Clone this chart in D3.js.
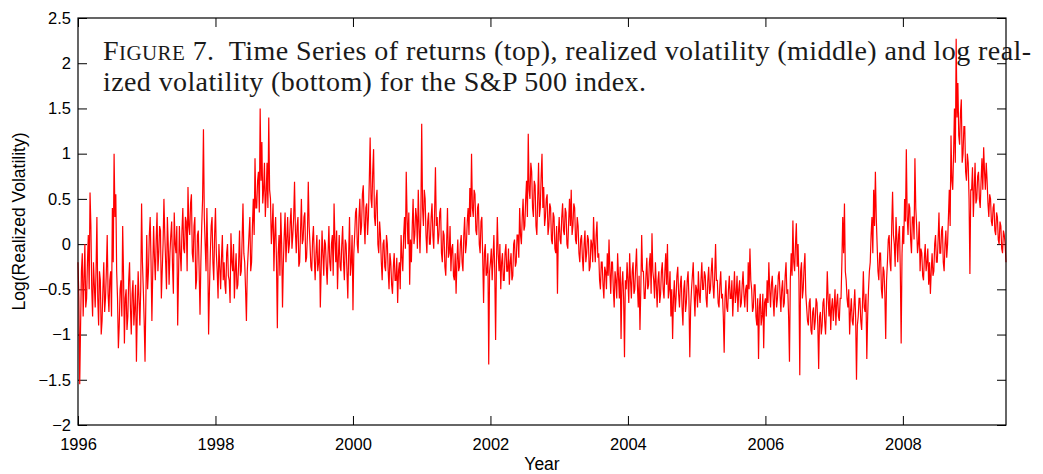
<!DOCTYPE html>
<html>
<head>
<meta charset="utf-8">
<script src="https://cdn.jsdelivr.net/npm/d3@7"></script>
<style>
  html, body { margin: 0; padding: 0; background: #fff; }
  svg { display: block; }
</style>
</head>
<body>
<div id="chart"></div>
<script>
// Log realized volatility of the S&P 500 (80 samples per year)
const v1996 = [-0.2, -0.6, -1.55, -0.9, -0.3, -0.1, -0.8, -0.4, 0.0, -0.7, -0.6, -0.2, 0.1, -0.5, 0.57, 0.2, -0.5, -0.8, -0.2, -0.45,
  -0.7, -0.3, 0.3, -0.6, -0.9, -0.3, -0.4, -1.0, -0.85, -0.5, -0.2, -0.75, -0.6, -0.3, 0.1, -0.55, -0.75, -0.4, -0.3, -0.8,
  0.4, -0.2, 1.0, 0.3, 0.55, -0.3, -0.6, -1.15, -0.9, -0.5, -0.4, -0.8, 0.2, -0.35, -1.1, -0.6, -0.5, -0.95, -0.8, -0.4,
  -0.2, -0.7, -1.0, -0.55, -0.4, -0.9, -0.7, -0.45, -1.3, -0.75, -0.3, -0.6, -0.9, -0.5, 0.45, -0.2, -0.5, -0.85, -1.3, -0.6];
const v1997 = [0.1, -0.5, -0.3, 0.1, 0.3, -0.2, -0.85, -0.3, 0.2, -0.15, -0.4, 0.05, 0.35, -0.3, -0.1, 0.2, 0.15, -0.6, -0.3, 0.0,
  0.5, 0.1, -0.2, -0.5, 0.3, 0.0, -0.45, -0.1, 0.1, 0.25, -0.25, -0.55, 0.35, 0.0, -0.1, 0.2, -0.9, -0.35, 0.2, -0.1,
  -0.3, 0.15, 0.4, -0.05, -0.1, 0.3, 0.25, -0.3, 0.63, 0.2, 0.1, 0.45, 0.55, -0.1, -0.2, 0.2, 0.3, -0.5, -0.4, 0.1,
  0.15, -0.3, -0.78, -0.2, 0.2, 0.5, 1.27, 0.3, 0.0, -0.3, 0.4, -0.1, -1.0, -0.5, -0.1, 0.2, 0.3, -0.2, -0.4, 0.1];
const v1998 = [0.4, -0.1, -0.3, -0.6, 0.0, -0.25, -0.5, -0.15, 0.1, -0.4, -0.2, -0.45, -0.55, -0.1, 0.0, -0.35, -0.4, -0.65, 0.12, -0.2,
  -0.3, 0.0, -0.6, -0.3, -0.1, -0.5, -0.45, -0.2, 0.15, -0.35, -0.3, 0.05, 0.45, -0.1, -0.2, -0.5, -0.85, -0.3, -0.1, 0.1,
  0.3, -0.3, -0.2, 0.2, 0.5, 0.1, 0.95, 0.4, 0.4, 0.7, 0.8, 0.35, 1.5, 0.7, 1.13, 0.45, 0.6, 0.9, 0.3, 0.55,
  0.9, 0.4, 1.4, 0.6, 0.5, 0.0, 0.2, 0.45, -0.3, 0.1, 0.3, -0.2, -0.93, -0.1, 0.1, -0.35, 0.35, 0.0, -0.7, -0.2];
const v1999 = [0.1, 0.35, -0.2, 0.05, 0.3, -0.1, 0.0, 0.25, 0.4, -0.05, 0.1, 0.3, 0.69, 0.15, -0.1, 0.2, 0.3, -0.25, -0.2, 0.15,
  0.5, 0.0, 0.05, 0.3, 0.35, -0.2, -0.15, 0.1, 0.69, 0.2, 0.0, -0.25, -0.3, 0.05, 0.2, -0.15, -0.4, -0.1, 0.1, -0.3,
  -0.2, 0.05, -0.7, -0.3, 0.15, -0.1, -0.35, 0.05, 0.0, -0.25, -0.45, -0.1, 0.2, -0.2, -0.3, 0.0, 0.1, -0.35, 0.45, 0.05,
  -0.2, 0.15, -0.5, -0.15, 0.1, -0.25, -0.3, 0.0, 0.2, -0.2, -0.4, 0.05, 0.0, -0.3, -0.6, -0.1, 0.3, -0.35, -0.2, 0.1];
const v2000 = [-0.73, -0.1, 0.1, 0.35, 0.4, 0.0, -0.1, 0.3, 0.5, 0.1, 0.2, 0.55, 0.65, 0.25, 0.0, 0.4, 0.45, 0.1, 0.3, 0.7,
  1.18, 0.5, 0.4, 0.8, 1.05, 0.3, 0.2, 0.5, 0.6, 0.0, -0.1, 0.25, 0.1, -0.2, -0.4, 0.0, 0.05, -0.25, -0.3, 0.1,
  0.0, -0.3, -0.5, -0.1, -0.2, -0.45, -0.55, -0.25, -0.1, -0.4, -0.4, -0.15, -0.65, -0.3, -0.2, -0.5, 0.1, -0.15, -0.3, 0.1,
  0.3, -0.05, 0.8, 0.3, 0.0, 0.35, -0.45, 0.05, -0.2, 0.2, 0.5, 0.0, 0.1, 0.4, 0.3, -0.05, 0.6, 0.2, -0.1, 0.3];
const v2001 = [1.33, 0.4, 0.2, 0.6, 0.5, 0.1, -0.1, 0.25, 0.35, 0.0, 0.0, 0.3, 0.45, 0.1, -0.05, 0.35, 0.85, 0.2, 0.3, 0.0,
  0.1, 0.35, 0.4, -0.1, -0.2, 0.15, 0.1, -0.25, -0.35, 0.0, 0.4, -0.15, -0.1, 0.2, -0.3, -0.05, 0.0, -0.35, -0.4, -0.1,
  -0.55, -0.2, 0.05, -0.3, -0.25, 0.0, 0.1, -0.2, -0.3, 0.1, 0.3, -0.1, 0.0, 0.25, 0.4, 0.1, 0.62, 0.3, 1.0, 0.4,
  0.3, 0.6, 0.55, 0.15, 0.1, 0.4, 0.45, 0.0, -0.1, 0.25, 0.3, -0.15, -0.65, -0.1, 0.0, -0.35, -0.3, -0.1, -1.33, -0.3];
const v2002 = [-0.2, -0.05, -0.4, -0.15, 0.1, -0.3, -1.06, -0.2, 0.3, -0.1, -0.3, 0.0, -0.5, -0.2, -0.1, -0.4, -0.4, -0.1, 0.0, -0.3,
  -0.3, -0.05, -0.45, -0.2, -0.1, -0.4, -0.35, 0.0, 0.05, -0.25, -0.2, 0.1, 0.1, -0.15, 0.4, 0.1, 0.0, 0.3, 0.5, 0.15,
  0.2, 0.5, 0.7, 0.3, 1.22, 0.6, 0.5, 0.9, 0.8, 0.4, 0.3, 0.7, 0.65, 0.2, 0.1, 0.5, 0.9, 0.3, 0.4, 0.75,
  1.0, 0.4, 0.63, 0.2, 0.3, 0.5, 0.55, 0.1, 0.2, 0.45, 0.4, 0.05, 0.0, 0.35, 0.3, -0.05, -0.1, 0.2, -0.55, 0.1];
const v2003 = [0.3, 0.05, 0.0, 0.3, 0.45, 0.15, 0.1, 0.4, 0.35, 0.0, -0.05, 0.25, 0.5, 0.2, 0.6, 0.1, 0.2, 0.45, 0.4, 0.05,
  0.0, 0.3, 0.2, -0.1, -0.2, 0.05, 0.1, -0.15, -0.3, 0.0, 0.15, -0.2, -0.1, 0.1, 0.05, -0.3, -0.25, 0.05, 0.0, -0.2,
  0.3, 0.0, -0.2, 0.1, 0.25, -0.15, -0.1, -0.4, -0.5, -0.2, -0.2, -0.45, -0.6, -0.25, -0.3, -0.5, -0.1, -0.35, 0.05, -0.3,
  -0.55, -0.2, -0.2, -0.5, -0.7, -0.3, -0.4, -0.6, -0.1, -0.35, -0.6, -0.25, -1.05, -0.45, -0.3, -0.6, -1.25, -0.4, -0.5, -0.2];
const v2004 = [-0.4, -0.65, -0.1, -0.4, -0.6, -0.3, -0.2, -0.55, -0.5, -0.25, -0.05, -0.45, -0.7, -0.35, -0.95, -0.5, 0.1, -0.3, -0.3, -0.6,
  -0.6, -0.35, -0.15, -0.5, -0.45, -0.2, -0.1, -0.55, 0.12, -0.3, -0.4, -0.6, -0.2, -0.45, -0.7, -0.4, -0.3, -0.65, -0.55, -0.3,
  -0.2, -0.5, -0.6, -0.3, -0.1, -0.45, 0.0, -0.6, -0.5, -0.3, -0.8, -0.5, -1.05, -0.6, -0.4, -0.75, -0.6, -0.35, -0.25, -0.55,
  -0.7, -0.45, -0.35, -0.7, -0.9, -0.5, -0.4, -0.75, -0.65, -0.4, -0.3, -0.6, -1.25, -0.7, -0.5, -0.35, -0.2, -0.55, -0.8, -0.45];
const v2005 = [-0.5, -0.7, -0.3, -0.55, -0.65, -0.4, -0.2, -0.5, -0.5, -0.3, -0.35, -0.6, -0.7, -0.4, -0.25, -0.55, -0.5, -0.3, -0.15, -0.45,
  -0.6, -0.35, 0.0, -0.4, -0.4, -0.65, -0.7, -0.45, -0.3, -0.6, -0.55, -0.8, -1.2, -0.6, -0.4, -0.7, -0.75, -0.5, -0.35, -0.6,
  -0.6, -0.4, -0.8, -0.55, -0.3, -0.65, -0.55, -0.35, -0.75, -0.5, -0.4, -0.7, -0.65, -0.45, -0.3, -0.55, -0.7, -0.5, -0.45, -0.75,
  -0.2, -0.5, -0.05, -0.4, -0.5, -0.75, -0.7, -0.45, -0.45, -0.8, -0.9, -0.6, -1.27, -0.7, -0.55, -0.9, -0.8, -0.55, -1.15, -0.65];
const v2006 = [-0.6, -0.8, -0.4, -0.65, -0.2, -0.5, -0.7, -0.45, -0.35, -0.6, -0.8, -0.5, -0.45, -0.7, -0.6, -0.35, -0.3, -0.55, -0.75, -0.5,
  -0.4, -0.7, -0.65, -0.35, -0.2, -0.55, -0.5, -0.8, -1.3, -0.4, -0.1, -0.35, 0.26, -0.2, -0.3, 0.0, 0.23, -0.25, 0.0, -0.4,
  -1.45, -0.3, -0.2, -0.6, -0.5, -0.25, -0.1, -0.55, -0.7, -0.85, -0.9, -0.65, -0.6, -0.95, -1.0, -0.75, -0.7, -0.95, -0.85, -0.6,
  -0.65, -0.9, -1.38, -0.8, -0.75, -1.0, -0.9, -0.65, -0.6, -0.85, -1.0, -0.7, -0.3, -0.6, -0.8, -0.55, -0.95, -0.7, -0.6, -0.85];
const v2007 = [-0.7, -0.5, -0.9, -0.65, -0.55, -0.8, -0.85, -0.6, -0.6, -0.2, 0.3, -0.1, 0.45, -0.3, -0.4, -0.6, -0.7, -0.5, -1.0, -0.75,
  -0.6, -0.85, -0.9, -0.7, -0.5, -0.8, -1.5, -0.9, -0.8, -0.6, -0.6, -0.85, -0.95, -0.65, -0.3, -0.7, -0.75, -0.55, -1.27, -0.8,
  -0.5, -0.3, -0.2, 0.1, 0.3, -0.1, 0.6, 0.2, 0.8, 0.3, 0.0, -0.3, -0.4, -0.1, -0.1, -0.5, -0.6, -0.25, -0.3, -0.55,
  -1.05, -0.4, -0.2, 0.05, 0.1, -0.2, -0.3, 0.2, 0.58, 0.1, 0.0, -0.25, 0.3, 0.05, -0.2, 0.1, 0.2, -0.3, -1.1, -0.1];
const v2008 = [0.2, 0.0, 0.5, 0.25, 1.05, 0.3, 0.1, 0.45, 0.4, 0.05, -0.1, 0.3, 0.3, 0.05, 0.95, 0.4, 0.2, -0.1, 0.0, 0.25,
  -0.3, -0.05, -0.1, -0.35, -0.4, -0.15, 0.0, -0.3, -0.2, -0.05, -0.45, -0.2, -0.55, -0.3, -0.1, -0.35, -0.3, 0.0, 0.1, -0.2,
  -0.2, 0.05, 0.35, -0.1, -0.1, 0.15, 0.2, -0.2, -0.3, 0.0, 0.15, -0.15, 0.0, 0.3, 0.6, 0.2, 1.2, 0.7, 0.6, 1.0,
  1.5, 0.9, 2.27, 1.4, 1.78, 1.2, 1.1, 1.45, 1.6, 0.9, 1.0, 1.3, 1.3, 0.8, 0.7, 1.0, 0.9, 0.5, -0.33, 0.6];
const v2009 = [0.6, 0.85, 0.3, 0.6, 0.9, 0.45, 0.5, 0.75, 0.8, 0.5, 0.4, 0.7, 0.95, 0.6, 1.07, 0.8, 0.6, 0.9, 0.7, 0.45,
  0.3, 0.55, 0.5, 0.25, 0.2, 0.4, 0.45, 0.15, 0.1, 0.35, 0.3, 0.05, 0.0, 0.25, 0.2, -0.05, -0.1, 0.15, 0.1, 0.0, -0.2];

const yearly = [
  [1996, v1996], [1997, v1997], [1998, v1998], [1999, v1999], [2000, v2000],
  [2001, v2001], [2002, v2002], [2003, v2003], [2004, v2004], [2005, v2005],
  [2006, v2006], [2007, v2007], [2008, v2008]
];
const lastYear = 2009;      // v2009 runs Jan 2009 .. mid 2009, end point included
const lastSpan = 0.5;

const xTicks = [1996, 1998, 2000, 2002, 2004, 2006, 2008];
const yTicks = [-2, -1.5, -1, -0.5, 0, 0.5, 1, 1.5, 2, 2.5];
const captionLine1 = ['F', 'igure', ' 7.\u00a0 Time Series of returns (top), realized volatility (middle) and log real-'];
const captionLine2 = 'ized volatility (bottom) for the S&P 500 index.';

const series = [];
yearly.forEach(([yr, vals]) => {
  vals.forEach((v, i) => series.push({ t: yr + i / vals.length, v }));
});
v2009.forEach((v, i) => series.push({ t: lastYear + i * lastSpan / (v2009.length - 1), v }));

const width = 1043;
const height = 474;
const margin = { top: 18, right: 37, bottom: 49, left: 78 };
const innerW = width - margin.left - margin.right;
const innerH = height - margin.top - margin.bottom;

const svg = d3.select('#chart').append('svg')
  .attr('width', width)
  .attr('height', height);

const g = svg.append('g')
  .attr('transform', `translate(${margin.left},${margin.top})`);

const x = d3.scaleLinear().domain([1996, 2009.5]).range([0, innerW]);
const y = d3.scaleLinear().domain([-2, 2.5]).range([innerH, 0]);

const minus = d => (d < 0 ? '\u2212' : '') + Math.abs(d);
const tickFont = 'Liberation Sans, Arial, Helvetica, sans-serif';
const tickSize = '16.5px';

// MATLAB-like axes: inward ticks on all four sides
function styleAxis(sel) {
  sel.select('.domain').remove();
  sel.selectAll('.tick line').attr('stroke', '#000').attr('stroke-width', 1);
  sel.selectAll('text')
    .attr('fill', '#000')
    .attr('font-size', tickSize)
    .attr('font-family', tickFont);
}

g.append('g')
  .attr('transform', `translate(0,${innerH})`)
  .call(d3.axisBottom(x).tickValues(xTicks).tickSizeInner(-9).tickPadding(13).tickFormat(d3.format('d')))
  .call(styleAxis);

g.append('g')
  .call(d3.axisTop(x).tickValues(xTicks).tickSizeInner(-9).tickFormat(''))
  .call(styleAxis);

g.append('g')
  .call(d3.axisLeft(y).tickValues(yTicks).tickSizeInner(-9).tickPadding(7).tickFormat(minus))
  .call(styleAxis);

g.append('g')
  .attr('transform', `translate(${innerW},0)`)
  .call(d3.axisRight(y).tickValues(yTicks).tickSizeInner(-9).tickFormat(''))
  .call(styleAxis);

// Caption printed inside the axes box
const serif = 'Liberation Serif, Times New Roman, serif';
const caption = g.append('text')
  .attr('x', 25)
  .attr('y', 42)
  .attr('fill', '#1a1a1a')
  .attr('font-family', serif)
  .attr('font-size', '28px')
  .attr('textLength', 928)
  .attr('lengthAdjust', 'spacing');
caption.append('tspan').text(captionLine1[0]);
caption.append('tspan').attr('font-size', '21px').text(captionLine1[1].toUpperCase());
caption.append('tspan').text(captionLine1[2]);

g.append('text')
  .attr('x', 25)
  .attr('y', 73)
  .attr('fill', '#1a1a1a')
  .attr('font-family', serif)
  .attr('font-size', '28px')
  .attr('textLength', 543)
  .attr('lengthAdjust', 'spacing')
  .text(captionLine2);

// Series
const line = d3.line()
  .x(d => x(d.t))
  .y(d => y(d.v));

g.append('path')
  .datum(series)
  .attr('d', line)
  .attr('fill', 'none')
  .attr('stroke', '#ff0000')
  .attr('stroke-width', 1.2);

// Box
g.append('rect')
  .attr('width', innerW)
  .attr('height', innerH)
  .attr('fill', 'none')
  .attr('stroke', '#000')
  .attr('stroke-width', 1.2);

// Axis titles
svg.append('text')
  .attr('transform', `translate(25, ${margin.top + innerH / 2}) rotate(-90)`)
  .attr('text-anchor', 'middle')
  .attr('fill', '#000')
  .attr('font-size', '17.5px')
  .attr('font-family', tickFont)
  .text('Log(Realized Volatility)');

svg.append('text')
  .attr('x', margin.left + innerW / 2)
  .attr('y', 470)
  .attr('text-anchor', 'middle')
  .attr('fill', '#000')
  .attr('font-size', '17.5px')
  .attr('font-family', tickFont)
  .text('Year');
</script>
</body>
</html>
